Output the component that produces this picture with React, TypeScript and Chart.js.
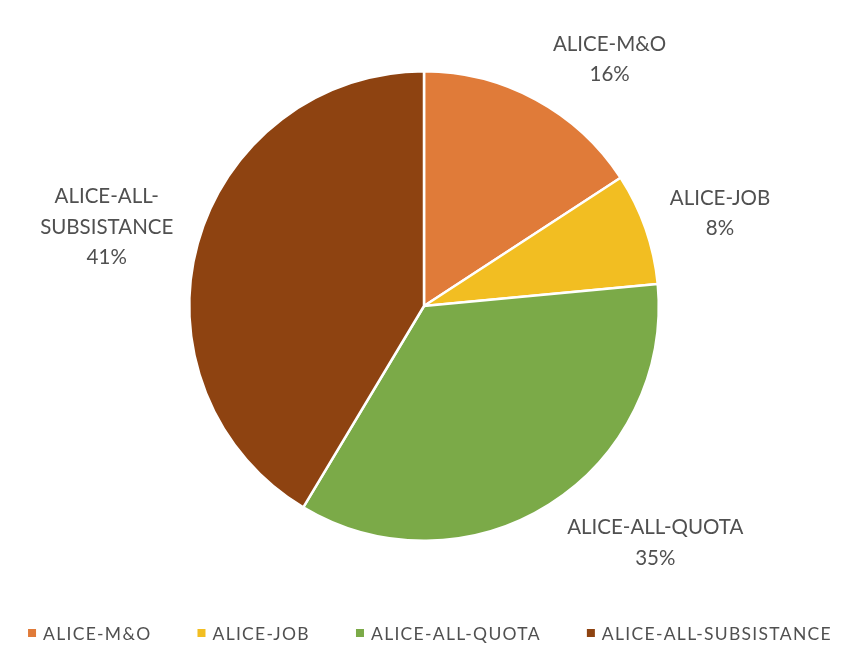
import React, { useEffect, useRef } from "react";
import { Chart, registerables } from "chart.js";
Chart.register(...registerables);

const categories = ["ALICE-M&O", "ALICE-JOB", "ALICE-ALL-QUOTA", "ALICE-ALL-SUBSISTANCE"];
const labelLines = [["ALICE-M&O"], ["ALICE-JOB"], ["ALICE-ALL-QUOTA"], ["ALICE-ALL-", "SUBSISTANCE"]];
const shares = [15.8, 7.7, 35.1, 41.4];
const colors = ["#E07B39", "#F2BE22", "#7BAA48", "#8E4311"];

const FONT = "Lato, 'Open Sans', sans-serif";
const TEXT = "#505050";

const labelPlugin = {
  id: "outsideLabels",
  afterDatasetsDraw(chart: any) {
    const ctx = chart.ctx;
    const meta = chart.getDatasetMeta(0);
    const data = chart.data.datasets[0].data as number[];
    const total = data.reduce((a, b) => a + b, 0);
    ctx.save();
    ctx.font = `20.5px ${FONT}`;
    ctx.fillStyle = TEXT;
    ctx.textAlign = "center";
    ctx.textBaseline = "middle";
    const lh = 30.5;
    meta.data.forEach((arc: any, i: number) => {
      const p = arc.getProps(["x", "y", "startAngle", "endAngle", "outerRadius"], true);
      const mid = (p.startAngle + p.endAngle) / 2;
      const ax = p.x + (p.outerRadius + 15) * Math.cos(mid);
      const ay = p.y + (p.outerRadius + 15) * Math.sin(mid);
      const lines = [...labelLines[i], Math.round((data[i] / total) * 100) + "%"];
      const w = Math.max(...lines.map((l) => ctx.measureText(l).width));
      const h = lines.length * lh;
      const left = Math.cos(mid) >= 0 ? ax + 10 : ax - 10 - w;
      const cy = ay + (h / 2) * Math.sin(mid);
      const cx = left + w / 2;
      lines.forEach((l, k) => {
        ctx.fillText(l, cx, cy - h / 2 + lh / 2 + k * lh);
      });
    });
    ctx.restore();
  },
};

const legendPlugin = {
  id: "bottomLegend",
  afterDraw(chart: any) {
    const ctx = chart.ctx;
    ctx.save();
    ctx.font = `17.5px ${FONT}`;
    (ctx as any).letterSpacing = "1.3px";
    ctx.textBaseline = "middle";
    ctx.textAlign = "left";
    const box = 8;
    const gapText = 7;
    const gapItem = 46;
    const widths = categories.map((c) => box + gapText + ctx.measureText(c).width);
    const total = widths.reduce((a, b) => a + b, 0) + gapItem * (categories.length - 1);
    let x = chart.width / 2 + 2 - total / 2;
    const y = chart.height - 14;
    categories.forEach((c, i) => {
      ctx.fillStyle = colors[i];
      ctx.fillRect(x, y - box / 2, box, box);
      ctx.fillStyle = TEXT;
      ctx.fillText(c, x + box + gapText, y + 1);
      x += widths[i] + gapItem;
    });
    ctx.restore();
  },
};

export default function App() {
  const ref = useRef<HTMLCanvasElement>(null);
  useEffect(() => {
    if (!ref.current) return;
    const chart = new Chart(ref.current, {
      type: "pie",
      data: {
        labels: categories,
        datasets: [
          {
            data: shares,
            backgroundColor: colors,
            borderColor: "#ffffff",
            borderWidth: 2.5,
          },
        ],
      },
      options: {
        responsive: false,
        animation: false,
        devicePixelRatio: 1,
        layout: { padding: { left: 188, right: 196, top: 70, bottom: 105 } },
        plugins: {
          legend: { display: false },
          tooltip: { enabled: false },
        },
      },
      plugins: [labelPlugin, legendPlugin],
    });
    return () => chart.destroy();
  }, []);
  return (
    <div style={{ position: "fixed", left: 0, top: 0, width: 856, height: 647, background: "#fff" }}>
      <canvas ref={ref} width={856} height={647} style={{ width: 856, height: 647 }} />
    </div>
  );
}
